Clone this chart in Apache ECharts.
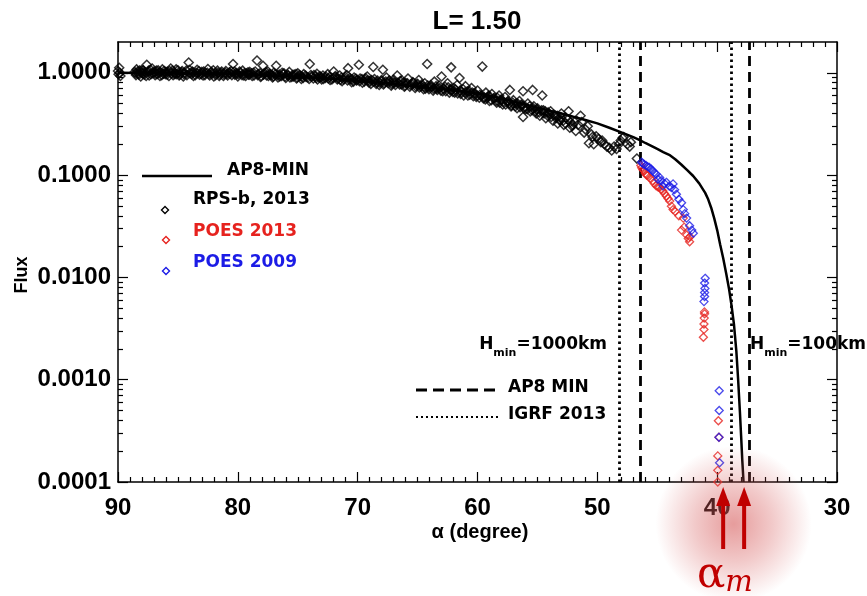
<!DOCTYPE html>
<html><head><meta charset="utf-8">
<script src="https://cdn.jsdelivr.net/npm/echarts@6/dist/echarts.min.js"></script>
<style>html,body{margin:0;padding:0;background:#fff}#c{width:867px;height:596px}</style>
</head><body><div id="c"></div>
<script>
const titleText = 'L= 1.50';
const xTickLabels = [90, 80, 70, 60, 50, 40, 30];
const yMajorTicks = [0.0001, 0.001, 0.01, 0.1, 1];
const yMinorTicks = [0.0002,0.0003,0.0004,0.0005,0.0006,0.0007,0.0008,0.0009,
  0.002,0.003,0.004,0.005,0.006,0.007,0.008,0.009,
  0.02,0.03,0.04,0.05,0.06,0.07,0.08,0.09,
  0.2,0.3,0.4,0.5,0.6,0.7,0.8,0.9];

// AP8-MIN model curve
const ap8Angle = [90,88,86,84,82,80,78,76,74,72,70,68,66,64,62,60,58,56,55,54,53,52,51,50,49,48,47,46.5,46,45.5,45,44.5,44,43.5,43,42.5,42,41.5,41,40.75,40.5,40.25,40,39.75,39.5,39.25,39,38.8,38.6,38.4,38.25,38.1,38.0,37.9,37.8];
const ap8Flux  = [1.0,0.995,0.991,0.984,0.977,0.966,0.946,0.923,0.898,0.871,0.834,0.794,0.755,0.716,0.674,0.63,0.56,0.49,0.455,0.425,0.4,0.372,0.346,0.32,0.29,0.262,0.235,0.221,0.206,0.193,0.18,0.168,0.158,0.143,0.127,0.112,0.098,0.083,0.067,0.058,0.048,0.038,0.029,0.021,0.0155,0.011,0.0076,0.0053,0.0035,0.0019,0.001,0.00048,0.00028,0.00016,0.0001];

// RPS-b 2013 measurements [angle, flux]
const rpsb2013 = [
[90.0,1.04],[89.95,0.97],[89.9,1.12],[89.85,1.0],[89.8,0.93],
[88.6,1.02],[88.5,0.95],[88.45,1.08],[88.3,0.98],[88.2,1.05],[88.1,0.92],[88.0,1.0],
[87.9,1.06],[87.8,0.96],[87.6,1.2],[87.5,1.02],[87.4,0.94],[87.3,1.07],[87.1,0.99],[87.0,1.03],
[86.9,0.95],[86.8,1.05],[86.6,1.0],[86.5,0.93],[86.3,1.08],[86.2,0.98],[86.0,1.02],
[85.9,0.96],[85.7,1.04],[85.6,1.1],[85.4,0.95],[85.3,1.0],[85.1,0.97],[85.0,1.06],
[84.9,0.94],[84.7,1.01],[84.5,0.97],[84.3,1.05],[84.1,1.26],[84.0,0.99],[83.8,1.03],
[83.7,0.93],[83.5,1.0],[83.4,1.07],[83.2,0.96],[83.0,1.02],[82.9,0.94],[82.7,1.0],
[82.5,1.09],[82.4,0.97],[82.2,1.02],[82.0,0.92],[81.9,0.99],[81.7,1.05],[81.5,0.96],
[81.4,1.0],[81.2,0.93],[81.0,1.04],[80.9,0.97],[80.7,1.01],[80.5,0.95],[80.4,1.22],[80.3,1.03],
[80.1,0.97],[80.0,0.92],[79.8,1.0],[79.6,1.05],[79.5,0.94],[79.3,0.99],[79.1,0.96],[79.0,1.02],
[78.8,0.93],[78.7,1.0],[78.4,1.32],[78.3,0.97],[78.1,0.91],[77.9,1.17],[77.8,0.99],[77.6,0.94],
[77.5,1.03],[77.3,0.96],[77.1,0.9],[77.0,1.0],[76.8,1.17],[76.7,0.95],[76.5,0.92],[76.3,1.0],
[76.2,0.97],[76.0,0.89],[75.8,0.94],[75.7,1.02],[75.5,0.91],[75.3,0.96],[75.1,0.88],[75.0,0.99],
[74.8,0.93],[74.7,0.87],[74.5,0.97],[74.3,0.91],[74.0,1.22],[73.9,0.95],[73.7,0.88],[73.5,0.93],
[73.4,0.98],[73.2,0.9],[73.0,0.86],[72.9,0.94],[72.7,0.89],[72.5,0.97],[72.3,0.85],[72.0,1.03],
[71.9,0.91],[71.7,0.86],[71.5,0.94],[71.3,0.83],[71.1,0.89],[70.9,0.95],[70.8,1.11],[70.6,0.86],
[70.5,0.81],[70.3,0.9],[70.1,0.84],[69.9,1.2],[69.8,0.88],[69.6,0.8],[69.4,0.86],[69.2,0.92],
[69.0,0.83],[68.9,0.78],[68.7,1.14],[68.6,0.87],[68.4,0.81],[68.2,0.76],[68.0,0.85],[67.9,1.07],
[67.8,0.79],[67.6,0.9],[67.4,0.83],[67.2,0.75],[67.0,0.86],[66.9,0.8],[66.7,0.94],[66.5,0.77],
[66.3,0.84],[66.1,0.73],[66.0,0.8],[65.8,0.88],[65.6,0.76],[65.4,0.81],[65.2,0.71],[65.0,0.78],
[64.9,0.85],[64.7,0.74],[64.5,0.69],[64.4,0.79],[64.2,1.22],[64.1,0.72],[63.9,0.76],[63.7,0.67],
[63.6,0.82],[63.4,0.7],[63.2,0.75],[63.0,0.92],[62.9,0.66],[62.7,0.73],[62.5,0.79],[62.3,0.68],
[62.2,1.13],[62.0,0.71],[61.9,0.64],[61.7,0.76],[61.5,0.89],[61.4,0.62],[61.2,0.69],[61.0,0.74],
[60.8,0.6],[60.7,0.66],[60.5,0.71],[60.3,0.63],[60.1,0.58],[60.0,0.67],[59.8,0.61],[59.6,1.15],
[59.5,0.56],[59.3,0.64],[59.1,0.59],[59.0,0.53],[58.8,0.62],[58.6,0.57],[58.4,0.51],[58.2,0.6],
[58.0,0.55],[57.9,0.49],[57.7,0.58],[57.5,0.52],[57.3,0.68],[57.2,0.47],[57.0,0.54],[56.8,0.5],
[56.7,0.45],[56.5,0.53],[56.3,0.48],[56.2,0.66],[56.2,0.37],[56.0,0.44],[55.8,0.5],[55.6,0.42],
[55.4,0.68],[55.3,0.47],[55.1,0.4],[55.0,0.45],[54.8,0.38],[54.6,0.6],[54.5,0.43],[54.3,0.36],
[54.1,0.41],[53.9,0.42],[53.7,0.34],[53.5,0.38],[53.3,0.32],[53.1,0.34],[53.0,0.4],[52.8,0.31],
[52.6,0.36],[52.4,0.42],[52.3,0.29],[52.1,0.3],[51.9,0.33],[51.8,0.27],[51.6,0.31],[51.4,0.38],
[51.3,0.33],[51.1,0.26],[51.0,0.28],[50.8,0.3],[50.7,0.205],[50.5,0.25],[50.4,0.236],[50.3,0.2],
[50.1,0.24],[49.9,0.226],[49.7,0.21],[49.6,0.218],[49.4,0.2],[49.2,0.19],[49.0,0.185],[48.8,0.174],
[48.6,0.19],[48.4,0.18],[48.2,0.2],[48.05,0.218],[47.9,0.23],[47.8,0.236],[47.5,0.2],[47.3,0.19],
[47.2,0.21],[46.7,0.145],
[88.55,0.99],[88.35,1.03],[88.25,0.96],[88.05,1.06],[87.95,0.98],[87.75,1.01],[87.65,0.93],[87.45,1.05],
[87.25,0.97],[87.15,1.1],[86.95,1.0],[86.75,0.97],[86.65,1.06],[86.45,1.01],[86.35,0.95],[86.15,1.04],
[86.05,0.97],[85.85,1.02],[85.75,0.93],[85.55,0.99],[85.45,1.05],[85.25,0.97],[85.15,1.08],[84.95,1.0],
[84.85,0.96],[84.65,1.04],[84.55,0.92],[84.45,1.0],[84.25,0.95],[84.05,1.07],[83.85,0.97],[83.75,1.01],
[83.55,0.95],[83.35,0.99],[83.25,1.04],[83.05,0.97],[82.85,1.03],[82.75,0.95],[82.55,1.0],[82.35,0.94],
[82.15,0.98],[82.05,1.06],[81.85,0.95],[81.65,1.0],[81.55,0.93],[81.35,1.03],[81.15,0.97],[81.05,1.0],
[80.85,0.94],[80.65,0.98],[80.55,1.04],[80.25,0.96],[80.15,1.0],[79.95,0.97],[79.85,1.03],[79.65,0.95],
[79.45,0.99],[79.35,0.93],[79.15,1.01],[79.05,0.96],[78.85,0.99],[78.65,0.94],[78.55,1.03],[78.35,0.95],
[78.15,0.99],[78.05,0.93],[77.85,0.96],[77.65,1.01],[77.45,0.93],[77.35,0.98],[77.15,0.95],[77.05,0.92],
[76.85,0.97],[76.65,0.9],[76.55,0.96],[76.35,0.93],[76.15,0.99],[76.05,0.92],[75.85,0.96],[75.65,0.9],
[75.45,0.95],[75.35,0.92],[75.15,0.97],[75.05,0.9],[74.85,0.95],[74.65,0.92],[74.55,0.89],[74.35,0.94],
[74.15,0.9],[74.05,0.87],[73.85,0.92],[73.65,0.95],[73.45,0.89],[73.35,0.86],[73.15,0.93],[73.05,0.9],
[72.85,0.87],[72.65,0.92],[72.45,0.88],[72.35,0.91],[72.15,0.86],[72.05,0.89],[71.85,0.93],[71.65,0.88],
[71.45,0.85],[71.35,0.9],[71.15,0.86],[71.05,0.92],[70.85,0.84],[70.65,0.89],[70.45,0.86],[70.35,0.82],
[70.15,0.88],[70.05,0.85],[69.85,0.83],[69.65,0.87],[69.45,0.82],[69.35,0.89],[69.15,0.84],[69.05,0.8],
[68.85,0.85],[68.65,0.82],[68.45,0.78],[68.35,0.84],[68.15,0.8],[68.05,0.83],[67.85,0.77],[67.65,0.82],
[67.45,0.79],[67.35,0.84],[67.15,0.78],[67.05,0.81],[66.85,0.76],[66.65,0.8],[66.45,0.83],[66.35,0.77],
[66.15,0.8],[66.05,0.75],[65.85,0.79],[65.65,0.73],[65.45,0.77],[65.35,0.8],[65.15,0.74],[65.05,0.77],
[64.85,0.72],[64.65,0.77],[64.45,0.73],[64.35,0.7],[64.15,0.75],[64.05,0.69],[63.85,0.73],[63.65,0.7],
[63.45,0.74],[63.35,0.68],[63.15,0.71],[63.05,0.67],[62.85,0.7],[62.65,0.66],[62.45,0.72],[62.35,0.64],
[62.15,0.68],[62.05,0.65],[61.85,0.69],[61.65,0.63],[61.45,0.67],[61.35,0.65],[61.15,0.6],[61.05,0.64],
[60.85,0.66],[60.65,0.61],[60.45,0.64],[60.35,0.59],[60.15,0.62],[60.05,0.6],[59.85,0.57],[59.65,0.6],
[59.45,0.58],[59.35,0.55],[59.15,0.57],[59.05,0.6],[58.85,0.54],[58.65,0.56],[58.45,0.53],[58.35,0.57],
[58.15,0.51],[58.05,0.54],[57.85,0.52],[57.65,0.49],[57.45,0.53],[57.35,0.5],[57.15,0.48],[57.05,0.51],
[56.85,0.47],[56.65,0.5],[56.45,0.46],[56.35,0.49],[56.15,0.45],[56.05,0.47],[55.85,0.44],[55.65,0.47],
[55.45,0.43],[55.35,0.45],[55.15,0.42],[55.05,0.44],[54.85,0.41],[54.65,0.43],[54.45,0.4],[54.35,0.42],
[54.15,0.38],[54.05,0.4],[53.85,0.37],[53.65,0.39],[53.45,0.36],[53.35,0.38],[53.15,0.35],[53.05,0.37],
[52.85,0.34],[52.65,0.32],[52.45,0.35],[52.25,0.33],[52.05,0.31]
];

const poes2013 = [
[46.37,0.124],[46.3,0.118],[46.2,0.113],[46.09,0.11],[46.0,0.104],[45.9,0.1],[45.8,0.099],[45.6,0.093],
[45.38,0.088],[45.25,0.083],[45.09,0.0785],[44.95,0.077],[44.81,0.0755],[44.65,0.072],[44.53,0.07],
[44.4,0.066],[44.24,0.0625],[44.1,0.059],[43.96,0.0557],[43.82,0.0497],[43.68,0.046],[43.5,0.044],
[43.2,0.04],[42.83,0.038],[42.97,0.029],[42.75,0.031],[42.55,0.026],[42.41,0.024],[42.3,0.0223],[42.27,0.025],
[41.06,0.0046],[41.05,0.0044],[41.08,0.0040],[41.1,0.0035],[41.1,0.0031],[41.15,0.0026],
[39.9,0.000397],[39.85,0.000274],[39.95,0.00018],[39.95,0.00013],[39.95,0.0001]
];
const poes2009 = [
[46.3,0.134],[46.22,0.13],[46.1,0.127],[45.94,0.124],[45.8,0.121],[45.66,0.119],[45.5,0.114],[45.38,0.11],
[45.25,0.106],[45.09,0.102],[44.95,0.091],[44.8,0.095],[44.67,0.088],[44.53,0.0785],[44.4,0.083],[44.24,0.085],
[44.0,0.078],[43.82,0.0755],[43.68,0.082],[43.55,0.072],[43.4,0.065],[43.2,0.058],[42.97,0.0537],[42.83,0.046],
[42.7,0.042],[42.55,0.038],[42.3,0.032],[42.12,0.029],[41.99,0.027],
[41.0,0.0098],[41.05,0.0088],[41.02,0.0078],[41.05,0.0071],[41.05,0.0065],[41.1,0.0058],
[39.83,0.00078],[39.83,0.0005],[39.85,0.000274],[39.8,0.000154]
];

// cut-off angles
const ap8MinCut = [46.4, 37.3];   // dashed
const igrfCut   = [48.2, 38.8];   // dotted
const alphaM    = [39.5, 37.75];  // arrows

const FONT = 'Liberation Sans';
const LFONT = 'DejaVu Sans';
const BLACK = '#000';
const RED = '#e6221e';
const BLUE = '#1c1ce6';
const DARKRED = '#c00000';

const ap8Data = ap8Angle.map((a, i) => [a, ap8Flux[i]]);

const chart = echarts.init(document.getElementById('c'));
const GRID = {left: 118, right: 30, top: 42, bottom: 114};
const axLine = {show: true, onZero: false, lineStyle: {color: BLACK, width: 1.5}};
const tickStyle = {color: BLACK, width: 1.2};
const lbl = {color: BLACK, fontFamily: FONT, fontWeight: 'bold', fontSize: 24};

function xAx(pos, showLabel) {
  return {gridIndex: 0, type: 'value', min: 30, max: 90, interval: 10, inverse: true, position: pos,
    axisLine: axLine,
    axisTick: {show: true, inside: true, length: 10, lineStyle: tickStyle},
    minorTick: {show: true, splitNumber: 10, length: 5, lineStyle: tickStyle},
    axisLabel: Object.assign({show: showLabel, margin: 14}, lbl),
    splitLine: {show: false}};
}
function yAx(grid, pos, ticks, len, showLabel, showLine) {
  return {gridIndex: grid, type: 'log', logBase: 10, min: 0.0001, max: 2, position: pos,
    axisLine: Object.assign({}, axLine, {show: showLine}),
    axisTick: {show: true, inside: true, length: len, customValues: ticks, lineStyle: tickStyle},
    axisLabel: Object.assign({show: showLabel, customValues: ticks, margin: 7,
      formatter: v => Number(v).toFixed(4)}, lbl),
    splitLine: {show: false}, minorTick: {show: false}};
}

const vLines = [];
ap8MinCut.forEach(v => vLines.push({xAxis: v, lineStyle: {type: [10, 6], width: 2.8, color: BLACK}}));
igrfCut.forEach(v => vLines.push({xAxis: v, lineStyle: {type: [2.6, 3.4], width: 2.8, color: BLACK}}));

const diamond = (color, w) => ({color: 'rgba(0,0,0,0)', borderColor: color, borderWidth: w});

chart.setOption({
  animation: false,
  backgroundColor: '#fff',
  grid: [Object.assign({}, GRID), Object.assign({}, GRID)],
  xAxis: [xAx('bottom', true), xAx('top', false),
    {gridIndex: 1, type: 'value', min: 30, max: 90, inverse: true, show: false}],
  yAxis: [yAx(0, 'left', yMajorTicks, 10, true, true), yAx(0, 'right', yMajorTicks, 10, false, true),
    yAx(1, 'left', yMinorTicks, 5, false, false), yAx(1, 'right', yMinorTicks, 5, false, false)],
  series: [
    {type: 'scatter', name: 'RPS-b, 2013', xAxisIndex: 0, yAxisIndex: 0, data: rpsb2013,
      symbol: 'diamond', symbolSize: 9, itemStyle: diamond(BLACK, 1.5), z: 3},
    {type: 'line', name: 'AP8-MIN', xAxisIndex: 0, yAxisIndex: 0, data: ap8Data, showSymbol: false,
      smooth: false, lineStyle: {color: BLACK, width: 2.5}, z: 4,
      markLine: {silent: true, symbol: ['none', 'none'], label: {show: false}, data: vLines}},
    {type: 'scatter', name: 'POES 2013', xAxisIndex: 0, yAxisIndex: 0, data: poes2013,
      symbol: 'diamond', symbolSize: 8, itemStyle: diamond(RED, 1.3), z: 5},
    {type: 'scatter', name: 'POES 2009', xAxisIndex: 0, yAxisIndex: 0, data: poes2009,
      symbol: 'diamond', symbolSize: 8, itemStyle: diamond(BLUE, 1.3), z: 6}
  ]
});

const px = a => chart.convertToPixel({xAxisIndex: 0}, a);
const tfont = (size, color, fam) => ({fontFamily: fam || FONT, fontWeight: 'bold', fontSize: size, fill: color || BLACK});
const dpoly = (cx, cy, s, color) => ({type: 'polygon', shape: {points: [[cx, cy - s], [cx + s, cy], [cx, cy + s], [cx - s, cy]]},
  style: {fill: 'none', stroke: color, lineWidth: 1.4}});
const arrow = (x) => ([
  {type: 'rect', shape: {x: x - 2, y: 503, width: 4, height: 46}, style: {fill: DARKRED}, z: 20},
  {type: 'polygon', shape: {points: [[x, 487], [x + 7, 506], [x - 7, 506]]}, style: {fill: DARKRED}, z: 20}
]);
const hText = (x, align, rest) => ({type: 'text', x: x, y: 345, z: 10, style: {
  text: '{h|H}{s|min}{h|' + rest + '}', align: align, verticalAlign: 'middle',
  rich: {h: {fontFamily: LFONT, fontWeight: 'bold', fontSize: 17, fill: BLACK, verticalAlign: 'bottom'},
         s: {fontFamily: LFONT, fontWeight: 'bold', fontSize: 11, fill: BLACK, verticalAlign: 'bottom', padding: [0, 0, -5, 0]}}}});

const g = [
  {type: 'text', x: 477, y: 22, style: Object.assign({text: titleText, align: 'center', verticalAlign: 'middle'}, tfont(26))},
  {type: 'text', x: 480, y: 532, style: Object.assign({text: 'α (degree)', align: 'center', verticalAlign: 'middle'}, tfont(20))},
  {type: 'text', x: 22, y: 275, rotation: Math.PI / 2, style: Object.assign({text: 'Flux', align: 'center', verticalAlign: 'middle'}, tfont(18))},
  // legend 1
  {type: 'line', shape: {x1: 142, y1: 176, x2: 212, y2: 176}, style: {stroke: BLACK, lineWidth: 2.5}},
  {type: 'text', x: 227, y: 171, style: Object.assign({text: 'AP8-MIN', verticalAlign: 'middle'}, tfont(17, BLACK, LFONT))},
  dpoly(165, 210, 3.5, BLACK),
  {type: 'text', x: 193, y: 200, style: Object.assign({text: 'RPS-b, 2013', verticalAlign: 'middle'}, tfont(17, BLACK, LFONT))},
  dpoly(166, 240, 3.5, RED),
  {type: 'text', x: 193, y: 232, style: Object.assign({text: 'POES 2013', verticalAlign: 'middle'}, tfont(17, RED, LFONT))},
  dpoly(166, 271, 3.5, BLUE),
  {type: 'text', x: 193, y: 263, style: Object.assign({text: 'POES 2009', verticalAlign: 'middle'}, tfont(17, BLUE, LFONT))},
  // legend 2
  hText(607, 'right', '=1000km'),
  hText(750, 'left', '=100km'),
  {type: 'line', shape: {x1: 416, y1: 390, x2: 499, y2: 390}, style: {stroke: BLACK, lineWidth: 2.8, lineDash: [11, 6]}},
  {type: 'text', x: 508, y: 388, style: Object.assign({text: 'AP8 MIN', verticalAlign: 'middle'}, tfont(17, BLACK, LFONT))},
  {type: 'line', shape: {x1: 416, y1: 417, x2: 499, y2: 417}, style: {stroke: BLACK, lineWidth: 2, lineDash: [2, 3]}},
  {type: 'text', x: 508, y: 415, style: Object.assign({text: 'IGRF 2013', verticalAlign: 'middle'}, tfont(17, BLACK, LFONT))},
  // alpha_m annotation
  {type: 'circle', shape: {cx: (px(alphaM[0]) + px(alphaM[1])) / 2, cy: 524, r: 78}, z: 15,
    style: {fill: new echarts.graphic.RadialGradient(0.5, 0.5, 0.5, [
      {offset: 0, color: 'rgba(214,90,90,0.6)'}, {offset: 0.5, color: 'rgba(214,90,90,0.32)'}, {offset: 1, color: 'rgba(214,90,90,0)'}])}},
  ...arrow(px(alphaM[0])), ...arrow(px(alphaM[1])),
  {type: 'text', x: 697, y: 576, z: 21, style: {text: '{a|α}{m|m}', verticalAlign: 'middle',
    rich: {a: {fontFamily: 'DejaVu Serif', fontSize: 42, fill: DARKRED},
           m: {fontFamily: 'DejaVu Serif', fontStyle: 'italic', fontSize: 29, fill: DARKRED, padding: [14, 0, 0, 0]}}}}
];
chart.setOption({graphic: g});
</script></body></html>
